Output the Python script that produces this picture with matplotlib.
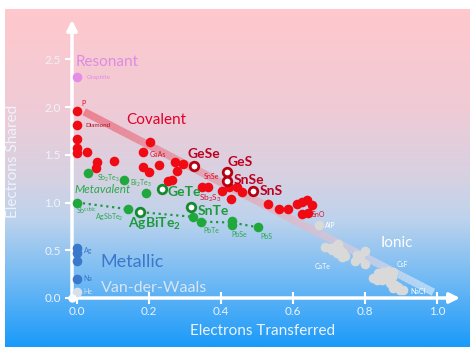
import numpy as np
import matplotlib
matplotlib.use("Agg")
import matplotlib.pyplot as plt
from matplotlib.collections import LineCollection
from matplotlib.colors import LinearSegmentedColormap, to_rgba

plt.rcParams['font.family'] = ['Lato', 'DejaVu Sans']
plt.rcParams['mathtext.fontset'] = 'custom'
plt.rcParams['mathtext.rm'] = 'Lato'

# ---------------- data ----------------
graphite_x = [0.0]
graphite_y = [2.31]

covalent_x = [0.0, 0.0, 0.0, 0.0, 0.0, 0.027, 0.056, 0.053, 0.103, 0.203, 0.184, 0.184,
              0.200, 0.227, 0.272, 0.295, 0.277, 0.254, 0.263, 0.346, 0.365, 0.402, 0.423,
              0.444, 0.457, 0.428, 0.531, 0.562, 0.587, 0.610, 0.624, 0.640, 0.652, 0.624, 0.643]
covalent_y = [1.96, 1.81, 1.67, 1.57, 1.52, 1.53, 1.42, 1.36, 1.43, 1.63, 1.53, 1.375,
              1.32, 1.39, 1.42, 1.40, 1.33, 1.22, 1.24, 1.165, 1.165, 1.12, 1.165,
              1.165, 1.11, 1.04, 0.98, 0.93, 0.93, 0.98, 1.01, 1.03, 0.97, 0.88, 0.89]
# highlighted covalent: GeSe, GeS, SnSe, SnS
cov_open_x = [0.325, 0.416, 0.418, 0.488]
cov_open_y = [1.38, 1.32, 1.23, 1.12]

metavalent_x = [0.031, 0.131, 0.192, 0.0, 0.143, 0.321, 0.344, 0.430, 0.431, 0.504]
metavalent_y = [1.31, 1.24, 1.10, 1.00, 0.93, 0.85, 0.80, 0.81, 0.76, 0.74]
# highlighted metavalent: GeTe, AgBiTe2, SnTe
mv_open_x = [0.235, 0.175, 0.318]
mv_open_y = [1.14, 0.90, 0.95]
# dotted trend line through Sb(cubic), AgSbTe2, AgBiTe2, SnTe, PbTe, PbSe, PbS
trend_x = [0.0, 0.143, 0.175, 0.321, 0.344, 0.430, 0.504]
trend_y = [1.00, 0.93, 0.90, 0.85, 0.80, 0.79, 0.74]

metallic_x = [0.0, 0.0, 0.0, 0.0]
metallic_y = [0.52, 0.47, 0.39, 0.20]
vdw_x = [0.0]
vdw_y = [0.066]

ionic_x = [0.673, 0.689, 0.703, 0.717, 0.726, 0.731, 0.740, 0.744, 0.735, 0.721, 0.708, 0.735,
           0.777, 0.772, 0.786, 0.800, 0.800,
           0.823, 0.837, 0.851, 0.865, 0.879, 0.832, 0.846, 0.860, 0.874, 0.869, 0.883,
           0.893, 0.906, 0.879, 0.897]
ionic_y = [0.76, 0.531, 0.520, 0.537, 0.565, 0.503, 0.468, 0.440, 0.426, 0.468, 0.503, 0.485,
           0.45, 0.39, 0.415, 0.495, 0.36,
           0.206, 0.259, 0.275, 0.286, 0.275, 0.188, 0.188, 0.223, 0.223, 0.154, 0.136,
           0.118, 0.084, 0.102, 0.084]

band_x = [0.02, 0.99]
band_y = [1.95, 0.06]

x_ticks = [0.0, 0.2, 0.4, 0.6, 0.8, 1.0]
y_ticks = [0.0, 0.5, 1.0, 1.5, 2.0, 2.5]

# ---------------- figure ----------------
W, H = 470, 347
fig = plt.figure(figsize=(W / 100, H / 100), dpi=100)
fig.patch.set_facecolor('white')

# background gradient
bg = fig.add_axes([5 / W, 0, (W - 5) / W, (H - 9) / H])
bg.set_axis_off()
cmap = LinearSegmentedColormap.from_list('bg', [
    (0.0, '#FFC8CC'), (0.30, '#EFCBD6'), (0.50, '#D6D1E2'), (0.62, '#BED3EC'),
    (0.80, '#72BAF4'), (1.0, '#1A9AFA')])
grad = np.linspace(0, 1, 256).reshape(-1, 1)
bg.imshow(grad, aspect='auto', cmap=cmap, extent=[0, 1, 0, 1], origin='upper')
bg.set_xlim(0, 1); bg.set_ylim(0, 1)

ax = fig.add_axes([72 / W, 49 / H, (460 - 72) / W, (298 - 20) / H])
ax.patch.set_alpha(0)
ax.set_xlim(-0.0139, 1.0639)
ax.set_ylim(0, 278 / 95.5)
for s in ax.spines.values():
    s.set_visible(False)

# axis arrows
ax.annotate('', xy=(1.0, 0), xytext=(-0.006, 0), xycoords='axes fraction',
            arrowprops=dict(arrowstyle='-|>,head_length=0.6,head_width=0.3', color='white', lw=2.5,
                            shrinkA=0, shrinkB=0), annotation_clip=False)
ax.annotate('', xy=(0, 1.0), xytext=(0, 0), xycoords='axes fraction',
            arrowprops=dict(arrowstyle='-|>,head_length=0.6,head_width=0.3', color='white', lw=2.5,
                            shrinkA=0, shrinkB=0), annotation_clip=False)
ax.plot([0], [0], 'o', color='white', ms=5, transform=ax.transAxes, clip_on=False, zorder=6)

ax.set_xticks(x_ticks)
ax.set_xticklabels([f'{v:.1f}' for v in x_ticks])
ax.set_yticks(y_ticks)
ax.set_yticklabels([f'{v:.1f}' for v in y_ticks])
ax.tick_params(axis='x', direction='inout', length=8, width=1.5, color='white',
               labelcolor='#EEF3FB', labelsize=8.5, pad=2)
ax.tick_params(axis='y', direction='out', length=5, width=1.5, color='white',
               labelcolor='#EEF3FB', labelsize=8.5, pad=3)

ax.set_xlabel('Electrons Transferred', fontsize=11, color='#EEF3FB')
ax.xaxis.set_label_coords(0.49, -0.093)
ax.set_ylabel('Electrons Shared', fontsize=11, color='#EEF3FB')
ax.yaxis.set_label_coords(-0.135, 0.49)

# gradient band
n = 100
bx = np.linspace(band_x[0], band_x[1], n + 1)
by = np.linspace(band_y[0], band_y[1], n + 1)
segs = [[(bx[i], by[i]), (bx[i + 1], by[i + 1])] for i in range(n)]
c0 = np.array(to_rgba('#E8283C', 0.45))
c1 = np.array(to_rgba('#FFFFFF', 0.5))
cols = [c0 + (c1 - c0) * (i / (n - 1)) for i in range(n)]
ax.add_collection(LineCollection(segs, colors=cols, linewidths=5.5, capstyle='butt', zorder=1))

# points
S = 48
ax.scatter(graphite_x, graphite_y, s=S, color='#E58BE8', zorder=3, linewidths=0)
ax.scatter(covalent_x, covalent_y, s=S, color='#F00A14', zorder=3, linewidths=0)
ax.scatter(cov_open_x, cov_open_y, s=38, facecolor='white', edgecolor='#B80010', linewidths=2, zorder=4)
ax.plot(trend_x, trend_y, ':', color='#1E9A3C', lw=1.6, zorder=2)
ax.scatter(metavalent_x, metavalent_y, s=S, color='#20A83C', zorder=3, linewidths=0)
ax.scatter(mv_open_x, mv_open_y, s=38, facecolor='white', edgecolor='#16882E', linewidths=2, zorder=4)
ax.scatter(metallic_x, metallic_y, s=S, color='#3A78CC', zorder=3, linewidths=0)
ax.scatter(vdw_x, vdw_y, s=S, color='#D5E0EC', zorder=3, linewidths=0)
ax.scatter(ionic_x, ionic_y, s=S, color='#D9D9D9', zorder=3, linewidths=0)

# labels
def t(x, y, s, size, color, weight='normal', style='normal', alpha=1.0):
    ax.text(x, y, s, fontsize=size, color=color, fontweight=weight, fontstyle=style,
            ha='left', va='center', alpha=alpha, zorder=5)

t(-0.003, 2.47, 'Resonant', 11, '#DC8CE4')
t(0.028, 2.31, 'Graphite', 4.5, '#E48BE6')
t(0.011, 2.04, 'P', 5, '#D8102A')
t(0.022, 1.81, 'Diamond', 4.5, '#B00C22')
t(0.136, 1.86, 'Covalent', 11, '#E0002A')
t(0.203, 1.50, 'GaAs', 5, '#D8102A')
t(0.306, 1.51, 'GeSe', 10, '#BE0020', 'bold')
t(0.419, 1.42, 'GeS', 10, '#BE0020', 'bold')
t(0.353, 1.27, 'SnSe', 5, '#D8102A')
t(0.436, 1.235, 'SnSe', 10, '#BE0020', 'bold')
t(0.506, 1.12, 'SnS', 10, '#BE0020', 'bold')
t(0.339, 1.04, r'$\mathregular{Sb_2S_3}$', 6, '#D8102A')
t(0.653, 0.87, 'SnO', 5, '#D8102A')
t(0.689, 0.754, 'AlP', 5, 'white')
t(0.844, 0.576, 'Ionic', 11, 'white')
t(0.661, 0.335, 'CaTe', 5, 'white')
t(0.889, 0.346, 'CsF', 5, 'white')
t(0.925, 0.073, 'NaCl', 5, 'white')
t(-0.006, 1.135, 'Metavalent', 8.5, '#2DA84A', style='italic')
t(0.056, 1.255, r'$\mathregular{Sb_2Te_3}$', 5, '#2DA84A')
t(0.147, 1.20, r'$\mathregular{Bi_2Te_3}$', 5, '#2DA84A')
t(0.250, 1.11, 'GeTe', 10, '#1E9A3C', 'bold')
t(-0.003, 0.92, r'$\mathregular{Sb^{cubic}}$', 5, '#2DA84A')
t(0.050, 0.84, r'$\mathregular{AgSbTe_2}$', 5, '#2DA84A')
t(0.142, 0.775, r'$\mathregular{AgBiTe_2}$', 10, '#1E9A3C', 'bold')
t(0.336, 0.91, 'SnTe', 10, '#1E9A3C', 'bold')
t(0.350, 0.71, 'PbTe', 5, '#2DA84A')
t(0.430, 0.66, 'PbSe', 5, '#2DA84A')
t(0.508, 0.64, 'PbS', 5, '#2DA84A')
t(0.019, 0.50, 'Ag', 5, '#3A78CC')
t(0.019, 0.20, 'Na', 5, '#3A78CC')
t(0.019, 0.073, 'He', 5, '#D5E0EC')
t(0.064, 0.377, 'Metallic', 13, '#3A78CC')
t(0.067, 0.105, 'Van-der-Waals', 11.5, '#D8E4F0')

fig.savefig('out.png', dpi=100)
